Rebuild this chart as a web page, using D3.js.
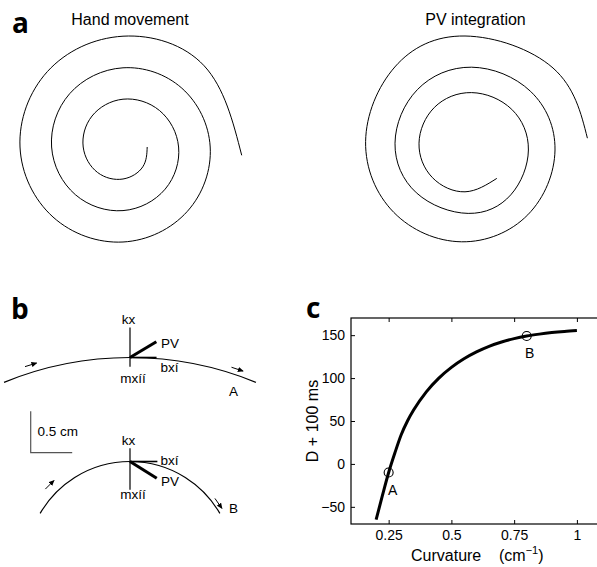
<!DOCTYPE html>
<html>
<head>
<meta charset="utf-8">
<script src="https://cdn.jsdelivr.net/npm/d3@7"></script>
<style>
  body { margin: 0; background: white; }
  svg text { font-family: "Liberation Sans", Arial, Helvetica, sans-serif; fill: black; }
  .panel_label { font-family: "Open Sans", "DejaVu Sans", sans-serif; font-weight: bold; font-size: 28px; }
</style>
</head>
<body>
<div id="fig"></div>
<script>

// panel a : hand spiral in polar form (angle deg clockwise from top, radius cm)
let hand_angle = [90,135,180,225,270,315,360,405,450,495,540,585,630,675,720,765,810,855,900,945,990,1035,1080,1125,1174]
let hand_radius = [1.21,1.40,1.60,1.80,1.99,2.19,2.39,2.58,2.78,2.98,3.18,3.37,3.57,3.77,3.96,4.16,4.36,4.55,4.75,4.95,5.15,5.34,5.54,5.74,5.95]

// panel a : PV integrated path (cm)
let pv_x = [1.24,-0.35,-1.98,-2.65,-1.88,-0.02,1.99,2.82,1.94,-0.19,-2.78,-3.85,-2.73,-0.02,2.93,4.15,2.79,-0.52,-3.91,-5.32,-3.86,-0.35,4.05,5.77]
let pv_y = [-1.67,-2.34,-1.63,0.09,1.88,2.62,1.78,-0.25,-2.49,-3.42,-2.39,0.09,2.77,3.89,2.68,-0.25,-3.49,-4.84,-3.37,0.17,3.9,5.45,3.85,0.34]

let titles = ["Hand movement", "PV integration"]

// panel b : two path segments
let seg_names = ["A", "B"]
let seg_curv = [0.25, 0.8]          // cm^-1
let seg_half_angle = [22.3, 60]     // deg
let seg_pv_angle = [31, -32]        // deg from tangent
let seg_pv_len = [0.37, 0.38]       // cm
let seg_up = [0.36, 0.16]           // cm
let seg_down = [0.11, 0.34]         // cm
let seg_tangent_len = [0.32, 0.33]  // cm
let arrow_angle = [[-17, 18.5], [-45, 55]]
let arrow_off = [[0.09, 0.07], [0.12, 0.05]]

// panel c
let curvature = [0.2,0.225,0.25,0.275,0.3,0.325,0.35,0.4,0.45,0.5,0.55,0.6,0.65,0.7,0.75,0.8,0.85,0.9,0.95,1.0]
let delay = [-65,-37,-10,13,34,50,63,84,100,112.5,122.5,130.5,137,142,146,149,151.2,153,154.4,155.5]
let x_ticks = [0.25, 0.5, 0.75, 1]
let x_tick_labels = ["0.25", "0.5", "0.75", "1"]
let y_ticks = [-50, 0, 50, 100, 150]
let mark_curv = [0.25, 0.8]
let mark_delay = [-10, 149]

let width = 597
let height = 567

window.onload = function () {
  let svg = d3.select("#fig").append("svg")
    .attr("width", width)
    .attr("height", height)

  svg.append("rect").attr("width", width).attr("height", height).attr("fill", "white")

  drawA(svg)
  drawB(svg)
  drawC(svg)
}

function drawA(svg) {
  svg.append("text").attr("class", "panel_label").attr("x", 12).attr("y", 33).text("a")

  let centers = [[123, 147], [472, 145]]
  let title_x = [130, 475.5]

  titles.forEach((t, i) => {
    svg.append("text")
      .attr("x", title_x[i]).attr("y", 25)
      .attr("text-anchor", "middle")
      .attr("font-size", 16)
      .text(t)
  })

  // hand movement spiral
  let r = d3.scaleLinear().domain([0, 1]).range([0, 20])
  let hand = hand_angle.map((a, i) => [a, hand_radius[i]])

  svg.append("g")
    .attr("transform", "translate(" + centers[0][0] + "," + centers[0][1] + ")")
    .append("path")
    .datum(hand)
    .attr("fill", "none")
    .attr("stroke", "black")
    .attr("stroke-width", 1)
    .attr("d", d3.lineRadial()
      .angle(d => d[0] * Math.PI / 180)
      .radius(d => r(d[1]))
      .curve(d3.curveNatural))

  // PV integration spiral
  let x = d3.scaleLinear().domain([-1, 1]).range([centers[1][0] - 20, centers[1][0] + 20])
  let y = d3.scaleLinear().domain([-1, 1]).range([centers[1][1] + 20, centers[1][1] - 20])
  let pv = pv_x.map((v, i) => [v, pv_y[i]])

  svg.append("path")
    .datum(pv)
    .attr("fill", "none")
    .attr("stroke", "black")
    .attr("stroke-width", 1)
    .attr("d", d3.line()
      .x(d => x(d[0]))
      .y(d => y(d[1]))
      .curve(d3.curveNatural))
}

function drawB(svg) {
  svg.append("text").attr("class", "panel_label").attr("x", 11).attr("y", 319).text("b")

  let px_per_cm = 83
  let top_y = [357.5, 461.5]
  let cx = 130

  // label offsets (px) per segment
  let lay = [
    {kx: -4, mx: 25.8, pv: -9.5, bx: 14, name: 38.5},
    {kx: -3.5, mx: 37.8, pv: 24.5, bx: 3, name: 51}
  ]

  svg.append("defs").append("marker")
    .attr("id", "arrowhead")
    .attr("viewBox", "0 -3 6 6")
    .attr("refX", 5).attr("refY", 0)
    .attr("markerWidth", 6).attr("markerHeight", 6)
    .attr("markerUnits", "userSpaceOnUse")
    .attr("orient", "auto")
    .append("path")
    .attr("d", "M0,-2.6L6,0L0,2.6Z")
    .attr("fill", "black")

  seg_names.forEach((name, i) => {
    let sx = d3.scaleLinear().domain([0, 1]).range([cx, cx + px_per_cm])
    let sy = d3.scaleLinear().domain([0, 1]).range([top_y[i], top_y[i] - px_per_cm])
    let R = 1 / seg_curv[i]
    let rpx = sx(R) - sx(0)
    let ccy = sy(-R)
    let half = seg_half_angle[i] * Math.PI / 180

    let p = d3.path()
    p.arc(sx(0), ccy, rpx, -Math.PI / 2 - half, -Math.PI / 2 + half)
    svg.append("path").attr("d", p.toString())
      .attr("fill", "none").attr("stroke", "black").attr("stroke-width", 1.2)

    // direction arrows
    arrow_angle[i].forEach((a, j) => {
      let th = a * Math.PI / 180
      let rr = sx(R + arrow_off[i][j]) - sx(0)
      let mx = sx(0) + rr * Math.sin(th)
      let my = ccy - rr * Math.cos(th)
      let L = 6
      svg.append("line")
        .attr("x1", mx - L * Math.cos(th)).attr("y1", my - L * Math.sin(th))
        .attr("x2", mx + L * Math.cos(th)).attr("y2", my + L * Math.sin(th))
        .attr("stroke", "black").attr("stroke-width", 1)
        .attr("marker-end", "url(#arrowhead)")
    })

    // normal axis
    svg.append("line")
      .attr("x1", sx(0)).attr("y1", sy(seg_up[i]))
      .attr("x2", sx(0)).attr("y2", sy(-seg_down[i]))
      .attr("stroke", "black").attr("stroke-width", 1.2)

    // tangent
    svg.append("line")
      .attr("x1", sx(0)).attr("y1", sy(0))
      .attr("x2", sx(seg_tangent_len[i])).attr("y2", sy(0))
      .attr("stroke", "black").attr("stroke-width", 1.6)

    // PV vector
    let pa = seg_pv_angle[i] * Math.PI / 180
    svg.append("line")
      .attr("x1", sx(0)).attr("y1", sy(0))
      .attr("x2", sx(seg_pv_len[i] * Math.cos(pa))).attr("y2", sy(seg_pv_len[i] * Math.sin(pa)))
      .attr("stroke", "black").attr("stroke-width", 3)

    let t = svg.append("g").attr("font-size", 13.5)
    t.append("text").attr("x", cx - 1.5).attr("y", sy(seg_up[i]) + lay[i].kx)
      .attr("text-anchor", "middle").text("kx")
    t.append("text").attr("x", cx + 3).attr("y", top_y[i] + lay[i].mx)
      .attr("text-anchor", "middle").text("mxíí")
    t.append("text").attr("x", 161).attr("y", top_y[i] + lay[i].pv).text("PV")
    t.append("text").attr("x", 160.5).attr("y", top_y[i] + lay[i].bx).text("bxí")
    t.append("text").attr("x", 233.5).attr("y", top_y[i] + lay[i].name)
      .attr("text-anchor", "middle").text(name)
  })

  // scale bar 0.5 cm
  let bar = 0.5 * px_per_cm
  svg.append("path")
    .attr("d", "M30.7," + (452.7 - bar) + "V452.7H" + (30.7 + bar))
    .attr("fill", "none").attr("stroke", "#555").attr("stroke-width", 1.2)
  svg.append("text").attr("x", 37.5).attr("y", 436).attr("font-size", 13.5).text("0.5 cm")
}

function drawC(svg) {
  svg.append("text").attr("class", "panel_label").attr("x", 306).attr("y", 318).text("c")

  let x = d3.scaleLinear().domain([0.1, 1.1]).range([351, 602])
  let y = d3.scaleLinear().domain([-70, 170]).range([524, 318])

  let g = svg.append("g")

  g.append("g")
    .attr("transform", "translate(0,524)")
    .call(d3.axisBottom(x).tickValues(x_ticks).tickFormat((d, i) => x_tick_labels[i])
      .tickSizeInner(-4).tickSizeOuter(0).tickPadding(6))
    .call(a => a.select(".domain").remove())
    .attr("font-size", 14).attr("font-family", null)

  g.append("g")
    .attr("transform", "translate(0,318)")
    .call(d3.axisTop(x).tickValues(x_ticks).tickFormat("")
      .tickSizeInner(-4).tickSizeOuter(0))
    .call(a => a.select(".domain").remove())

  g.append("g")
    .attr("transform", "translate(351,0)")
    .call(d3.axisLeft(y).tickValues(y_ticks)
      .tickSizeInner(-4).tickSizeOuter(0).tickPadding(6))
    .call(a => a.select(".domain").remove())
    .attr("font-size", 14).attr("font-family", null)

  g.selectAll(".tick line").attr("stroke", "black")

  g.append("rect")
    .attr("x", x(0.1)).attr("y", y(170))
    .attr("width", x(1.1) - x(0.1)).attr("height", y(-70) - y(170))
    .attr("fill", "none").attr("stroke", "black").attr("stroke-width", 1.2)

  let data = curvature.map((c, i) => [c, delay[i]])

  g.append("path")
    .datum(data)
    .attr("fill", "none")
    .attr("stroke", "black")
    .attr("stroke-width", 3)
    .attr("d", d3.line()
      .x(d => x(d[0]))
      .y(d => y(d[1]))
      .curve(d3.curveMonotoneX))

  let marks = mark_curv.map((c, i) => [c, mark_delay[i], seg_names[i]])

  g.selectAll("circle.mark")
    .data(marks)
    .join("circle")
    .attr("class", "mark")
    .attr("cx", d => x(d[0]))
    .attr("cy", d => y(d[1]))
    .attr("r", 4.5)
    .attr("fill", "none")
    .attr("stroke", "black")
    .attr("stroke-width", 1.1)

  let label_dx = [4, 3]
  let label_dy = [22, 21.5]
  g.selectAll("text.mark")
    .data(marks)
    .join("text")
    .attr("class", "mark")
    .attr("x", (d, i) => x(d[0]) + label_dx[i])
    .attr("y", (d, i) => y(d[1]) + label_dy[i])
    .attr("text-anchor", "middle")
    .attr("font-size", 14)
    .text(d => d[2])

  g.append("text")
    .attr("transform", "translate(318,421) rotate(-90)")
    .attr("text-anchor", "middle")
    .attr("font-size", 16)
    .text("D + 100 ms")

  g.append("text").attr("x", 411).attr("y", 561).attr("font-size", 16).text("Curvature")
  let u = g.append("text").attr("x", 499).attr("y", 561).attr("font-size", 16)
  u.append("tspan").text("(cm")
  u.append("tspan").attr("dy", -7).attr("font-size", 11).text("−1")
  u.append("tspan").attr("dy", 7).text(")")
}

</script>
</body>
</html>
